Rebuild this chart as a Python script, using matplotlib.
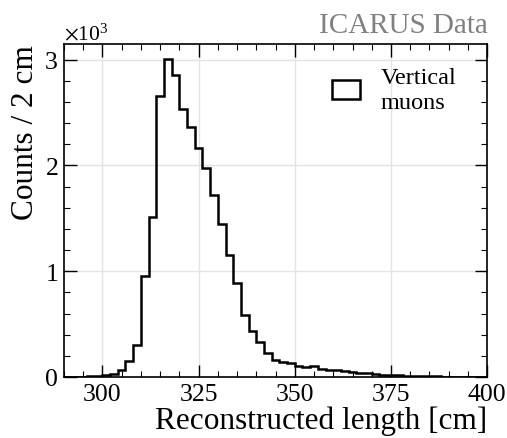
import numpy as np
import matplotlib
matplotlib.use("Agg")
from matplotlib import pyplot as plt
from matplotlib.ticker import MultipleLocator, ScalarFormatter

# bin edges every 2 cm from 290 to 400
edges = np.arange(290, 402, 2)
counts = np.array([
    2, 3, 4, 6, 9,                                  # 290-300
    15, 31, 63, 147, 304, 953, 1508, 2661, 3009, 2853,   # 300-320
    2530, 2364, 2166, 1975, 1724, 1445, 1157, 893, 589, 439,  # 320-340
    326, 223, 163, 141, 128, 103, 97, 103, 75, 70,    # 340-360
    62, 56, 50, 42, 36, 29, 23, 18, 14, 12,           # 360-380
    10, 8, 6, 5, 4, 3, 3, 2, 2, 2,                    # 380-400
])

plt.rcParams['font.family'] = ['Liberation Serif', 'DejaVu Serif']
plt.rcParams['mathtext.fontset'] = 'stix'

fig = plt.figure(figsize=(5.07, 4.39), dpi=100)
ax = fig.add_axes([0.126, 0.139, 0.835, 0.759])

ax.hist(edges[:-1], bins=edges, weights=counts, histtype='step',
        color='black', linewidth=1.8, label='Vertical\nmuons')

ax.set_xlim(290, 400)
ax.set_ylim(0, 3150)
ax.xaxis.set_major_locator(MultipleLocator(25))
ax.xaxis.set_minor_locator(MultipleLocator(5))
ax.yaxis.set_major_locator(MultipleLocator(1000))
ax.yaxis.set_minor_locator(MultipleLocator(200))

fmt = ScalarFormatter(useMathText=True)
fmt.set_powerlimits((3, 3))
ax.yaxis.set_major_formatter(fmt)
off = ax.yaxis.get_offset_text()
off.set_fontsize(15.5)
off.set_x(0.0)

ax.grid(True, which='major', color='#e3e3e3', linewidth=1)
ax.set_axisbelow(True)
ax.tick_params(which='both', direction='in', top=True, right=True, labelsize=18.5)
ax.tick_params(which='major', length=9, width=1, pad=4)
ax.tick_params(which='minor', length=4.5, width=0.8)
for s in ax.spines.values():
    s.set_linewidth(1.2)

ax.set_xlabel('Reconstructed length [cm]', fontsize=22.5, loc='right', labelpad=1)
ax.set_ylabel('Counts / 2 cm', fontsize=22.5, loc='top', labelpad=3)

ax.legend(loc='upper right', frameon=False, fontsize=17.5, handlelength=1.15,
          handleheight=0.8, handletextpad=0.85, labelspacing=0.0,
          bbox_to_anchor=(0.978, 0.995))

fig.text(0.962, 0.925, 'ICARUS Data', ha='right', va='baseline',
         fontsize=21, color='gray')

fig.savefig('out.png', dpi=100)
